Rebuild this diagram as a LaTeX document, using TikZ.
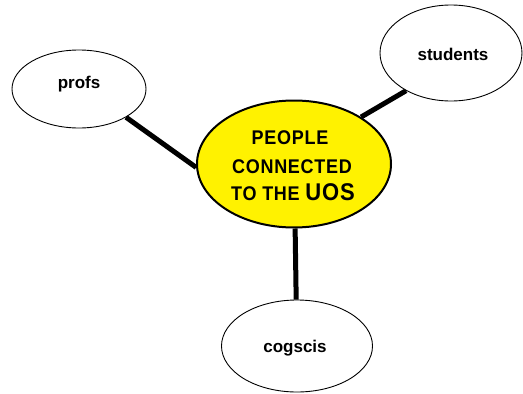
\documentclass[tikz,border=0pt]{standalone}
\usepackage{fontspec}
\setmainfont{Liberation Sans}
\usetikzlibrary{shapes.geometric,backgrounds}
% slightly tall capitals for the central bubble
\newcommand{\tallcaps}[1]{\scalebox{1}[1.1]{#1}}
\begin{document}
\begin{tikzpicture}[x=1pt,y=-1pt,
  bubble/.style={ellipse,draw=black,line width=0.9pt,fill=white,inner sep=0pt},
  hub/.style={ellipse,draw=black,line width=2pt,fill=yellow,inner sep=0pt},
  word/.style={anchor=base,inner sep=0pt,font=\fontsize{17}{17}\selectfont\bfseries},
  caps/.style={anchor=base,inner sep=0pt,
    font=\fontsize{18}{18}\selectfont\bfseries\addfontfeatures{LetterSpace=4}},
  link/.style={line width=5pt,black}]
\useasboundingbox (0,0) rectangle (523,394);
% the four ellipses
\node[hub,minimum width=194,minimum height=127] (hub) at (294,164) {};
\node[bubble,minimum width=134,minimum height=78] (profs) at (79,89) {};
\node[bubble,minimum width=142,minimum height=96] (students) at (451,53) {};
\node[bubble,minimum width=151,minimum height=92] (cogscis) at (297,346) {};
% their labels
\node[caps] (hubA) at (290,144) {\tallcaps{PEOPLE}};
\node[caps] (hubB) at (292,173) {\tallcaps{CONNECTED}};
\node[caps] (hubC) at (293,200) {\tallcaps{TO THE {\fontsize{22}{22}\selectfont UOS}}};
\node[word] (profsT) at (79,88) {profs};
\node[word] (studentsT) at (453,60) {students};
\node[word] (cogscisT) at (295,352) {cogscis};
% spokes behind the ellipses
\begin{scope}[on background layer]
  \fill[white] (0,0) rectangle (523,394);
  \draw[link] (profs.-31) -- (hub.182);
  \draw[link] (students.220) -- (hub.35);
  \draw[link] (hub.-89.3) -- (cogscis.91.5);
\end{scope}
\end{tikzpicture}
\end{document}
